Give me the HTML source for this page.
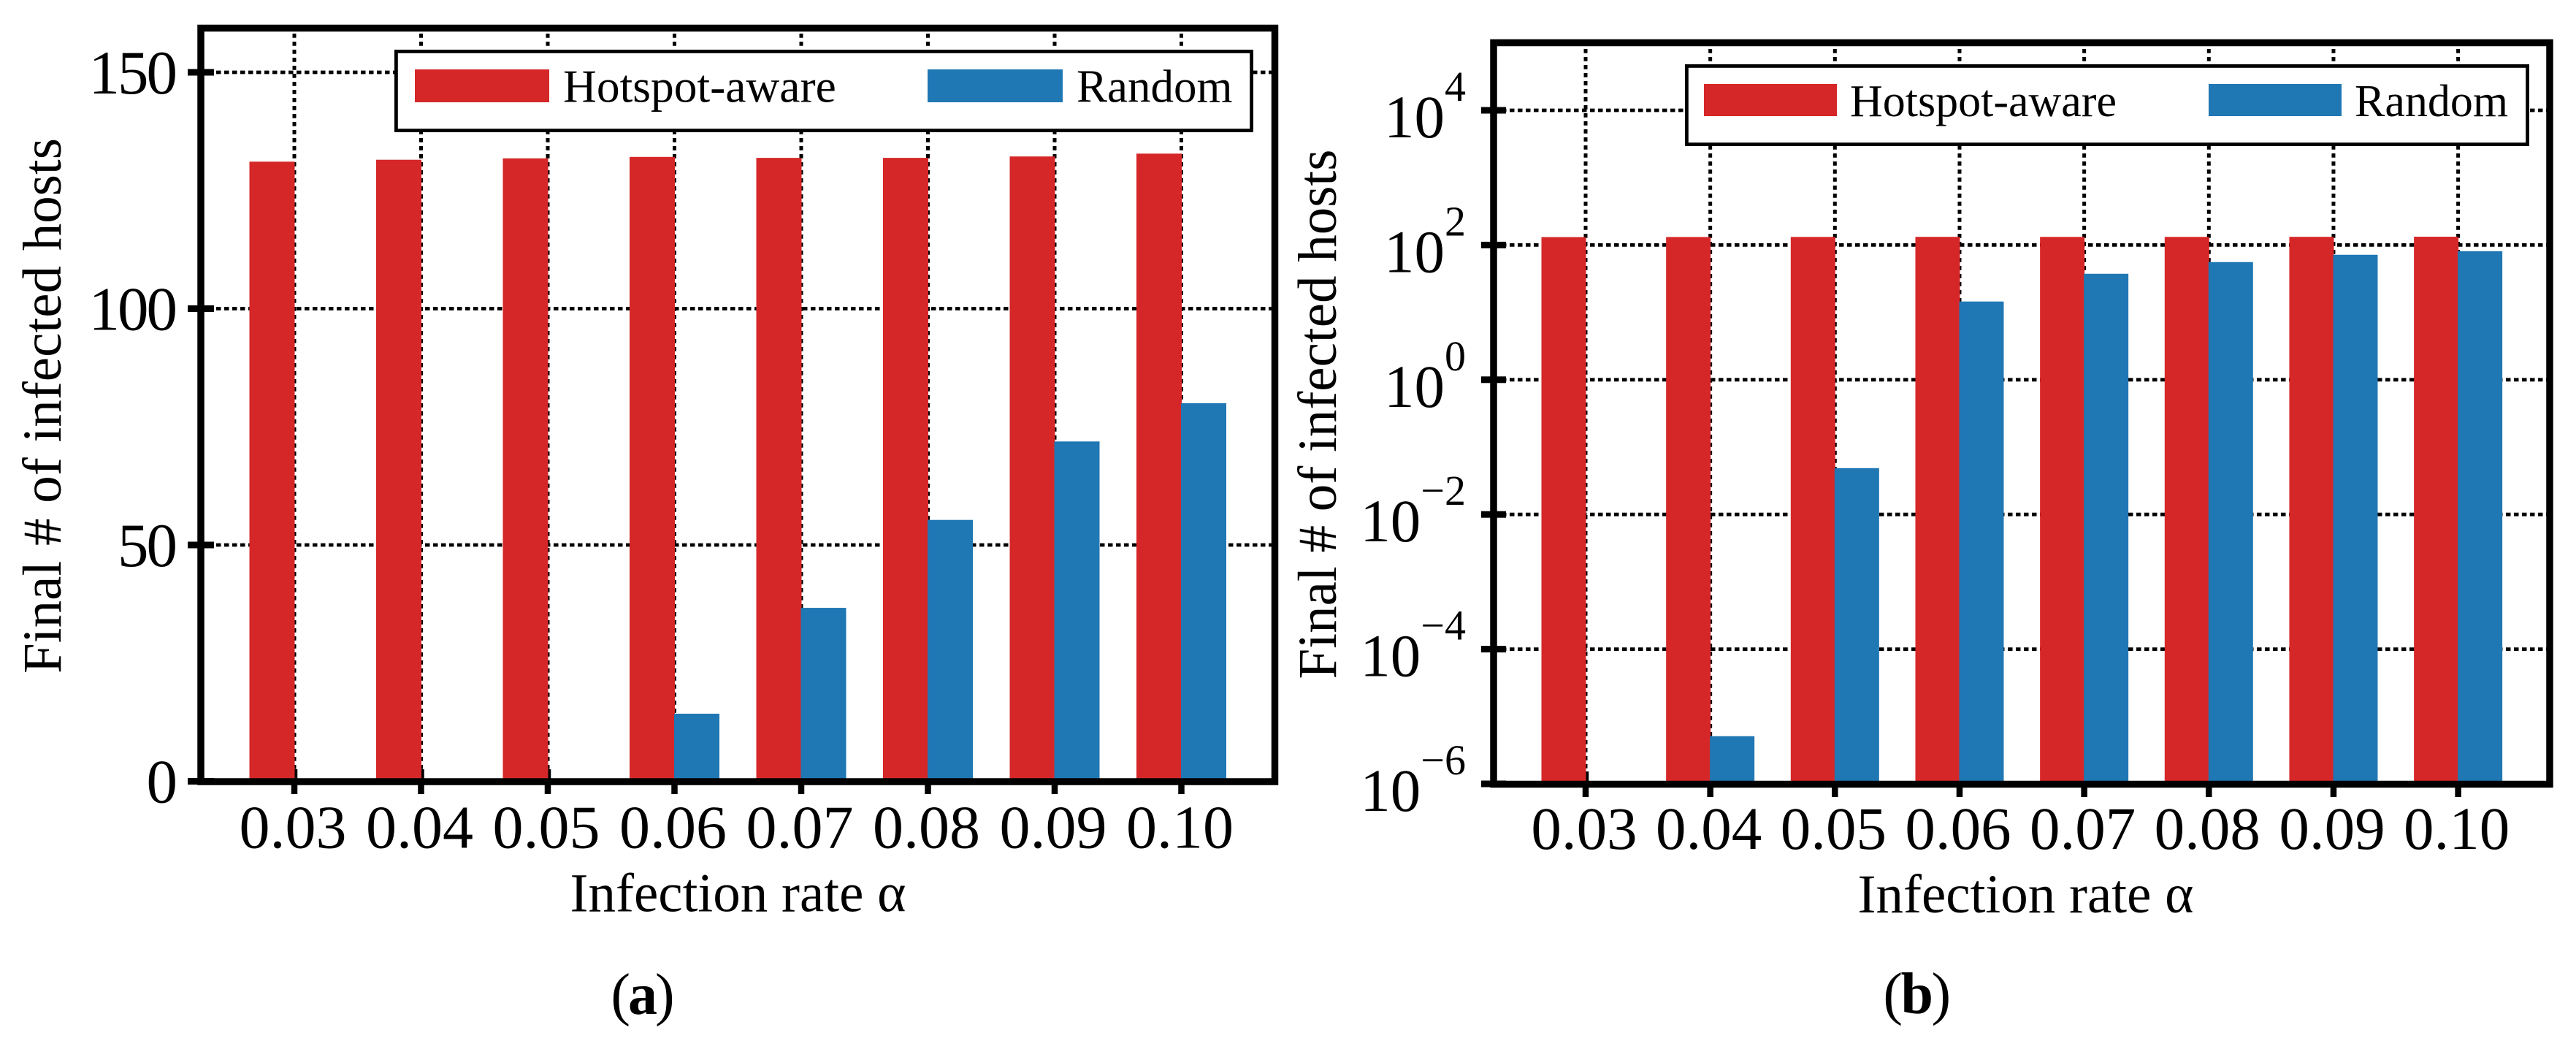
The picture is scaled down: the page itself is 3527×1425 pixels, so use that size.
<!DOCTYPE html>
<html lang="en">
<head>
<meta charset="utf-8">
<title>Final number of infected hosts vs infection rate</title>
<style>
html,body{margin:0;padding:0;background:#fff;}
svg{display:block;}
text{font-family:"Liberation Serif","Times New Roman",serif;fill:#000;}
</style>
</head>
<body>
<svg id="figure" xmlns="http://www.w3.org/2000/svg" width="3527" height="1425" viewBox="0 0 3527 1425">
  <rect x="0" y="0" width="3527" height="1425" fill="#fff"/>
  <g id="panel-a"></g>
  <g id="panel-b"></g>

  <text transform="translate(83,555.5) rotate(-90)" text-anchor="middle" font-size="75" word-spacing="2">Final # of infected hosts</text>
  <text x="1010.5" y="1247.5" text-anchor="middle" font-size="75">Infection rate α</text>
  <text x="878.5" y="1388" text-anchor="middle" font-size="80" letter-spacing="-3">(<tspan font-weight="bold">a</tspan>)</text>

  <text transform="translate(1829,567) rotate(-90)" text-anchor="middle" font-size="75">Final # of infected hosts</text>
  <text x="2773.5" y="1249" text-anchor="middle" font-size="75">Infection rate α</text>
  <text x="2623.5" y="1387" text-anchor="middle" font-size="80" letter-spacing="-2.5">(<tspan font-weight="bold">b</tspan>)</text>

  <g>
    <rect x="542.4" y="70.4" width="1171.2" height="108.2" fill="#fff" stroke="#000" stroke-width="4.8"/>
    <rect x="568" y="95" width="184" height="45" fill="#D62728"/>
    <text x="771" y="139.5" font-size="63.5">Hotspot-aware</text>
    <rect x="1270" y="95" width="185" height="45" fill="#1F77B4"/>
    <text x="1474" y="139.5" font-size="63">Random</text>
  </g>
  <g>
    <rect x="2309.4" y="90.4" width="1151.2" height="107.2" fill="#fff" stroke="#000" stroke-width="4.8"/>
    <rect x="2333" y="115" width="182" height="44" fill="#D62728"/>
    <text x="2533" y="159" font-size="62">Hotspot-aware</text>
    <rect x="3024" y="115" width="182" height="44" fill="#1F77B4"/>
    <text x="3224" y="159" font-size="62">Random</text>
  </g>
</svg>
<script>
const categories = ["0.03", "0.04", "0.05", "0.06", "0.07", "0.08", "0.09", "0.10"];
const hotspotValues = [131.1, 131.5, 131.8, 132.1, 131.9, 131.9, 132.2, 132.8];
const randomValues = [0, 0, 0, 14.3, 36.7, 55.3, 71.9, 80.0];
const hotspotLogValues = [131.1, 131.5, 131.8, 132.1, 131.9, 131.9, 132.2, 132.8];
const randomLogValues = [0, 0.0000051, 0.0487, 14.5, 37.4, 55.8, 71.6, 81.0];
const linearTicks = [0, 50, 100, 150];
const logTickExponents = [-6, -4, -2, 0, 2, 4];

const RED = "#D62728";
const BLUE = "#1F77B4";
const SVGNS = "http://www.w3.org/2000/svg";

function make(tag, attrs, parent) {
  const el = document.createElementNS(SVGNS, tag);
  for (const k in attrs) el.setAttribute(k, attrs[k]);
  parent.appendChild(el);
  return el;
}

function drawPanel(cfg) {
  const g = document.getElementById(cfg.id);
  const xPos = i => cfg.x0 + cfg.xStep * i;

  categories.forEach((c, i) => {
    const line = make("line", {x1: xPos(i), x2: xPos(i), y1: cfg.gridTop, y2: cfg.inBottom, stroke: "#000", "stroke-width": 5, "stroke-dasharray": "5.8 5.2"}, g);
    
    
  });

  cfg.ticks.forEach(t => {
    const y = cfg.y(t);
    const line = make("line", {x1: cfg.gridLeft, x2: cfg.inRight, y1: y, y2: y, stroke: "#000", "stroke-width": 4.8, "stroke-dasharray": "6.5 4.5"}, g);
    
    

    const mark = make("rect", {x: cfg.yTickLeft, y: y - 4.5, width: cfg.yTickRight - cfg.yTickLeft, height: 9, fill: "#000"}, g);
    
    

    const label = make("text", {x: cfg.yLabelX, y: y + cfg.yLabelDy, "text-anchor": "end", "font-size": cfg.yLabelSize, "letter-spacing": cfg.yLabelSpacing}, g);
    
    
    cfg.tickLabel(t, label);
  });

  categories.forEach((c, i) => {
    const mark = make("rect", {x: xPos(i) - 4.25, y: cfg.xTickTop, width: 8.5, height: cfg.xTickBottom - cfg.xTickTop, fill: "#000"}, g);
    
    

    const label = make("text", {x: xPos(i) - 2, y: cfg.xLabelY, "text-anchor": "middle", "font-size": cfg.xLabelSize}, g);
    
    
    label.textContent = c;
  });

  cfg.hotspot.forEach((v, i) => {
    const top = cfg.y(v);
    const bar = make("rect", {x: xPos(i) - cfg.barW + 0.5, y: top, width: cfg.barW, height: cfg.inBottom - top, fill: RED}, g);
    
    
  });

  cfg.random.forEach((v, i) => {
    if (!(v > 0)) return;
    const top = cfg.y(v);
    const bar = make("rect", {x: xPos(i) - 0.5, y: top, width: cfg.barW, height: cfg.inBottom - top, fill: BLUE}, g);
    
    
  });

  const frame = make("rect", {x: cfg.frame[0], y: cfg.frame[1], width: cfg.frame[2], height: cfg.frame[3], fill: "none", stroke: "#000", "stroke-width": 9.5}, g);
  
  
}

drawPanel({
  id: "panel-a",
  x0: 403, xStep: 173.5, barW: 62,
  y: v => 1069.5 - v * 6.47,
  ticks: linearTicks,
  tickLabel: (t, el) => { el.textContent = String(t); },
  hotspot: hotspotValues, random: randomValues,
  gridTop: 46, gridLeft: 285, inBottom: 1066, inRight: 1741,
  yTickLeft: 257, yTickRight: 293, xTickTop: 1053, xTickBottom: 1087,
  yLabelX: 240, yLabelDy: 29, yLabelSize: 85, yLabelSpacing: -3,
  xLabelY: 1160.5, xLabelSize: 84,
  frame: [275, 38.5, 1470.5, 1031.5]
});

drawPanel({
  id: "panel-b",
  x0: 2171, xStep: 170.66, barW: 61,
  y: v => 1073 - (Math.log10(v) + 6) * 92.2,
  ticks: logTickExponents.map(e => Math.pow(10, e)),
  tickLabel: (t, el) => {
    const e = Math.round(Math.log10(t));
    const base = make("tspan", {}, el);
    base.textContent = "10";
    const sup = make("tspan", {dy: -50, "font-size": 58}, el);
    sup.textContent = (e < 0 ? "\u2212" : "") + Math.abs(e);
  },
  hotspot: hotspotLogValues, random: randomLogValues,
  gridTop: 67, gridLeft: 2056, inBottom: 1070, inRight: 3487,
  yTickLeft: 2028, yTickRight: 2062, xTickTop: 1056, xTickBottom: 1091,
  yLabelX: 2007, yLabelDy: 37, yLabelSize: 83, yLabelSpacing: 0,
  xLabelY: 1162, xLabelSize: 83,
  frame: [2045, 58.5, 1446, 1015]
});
</script>
</body>
</html>
